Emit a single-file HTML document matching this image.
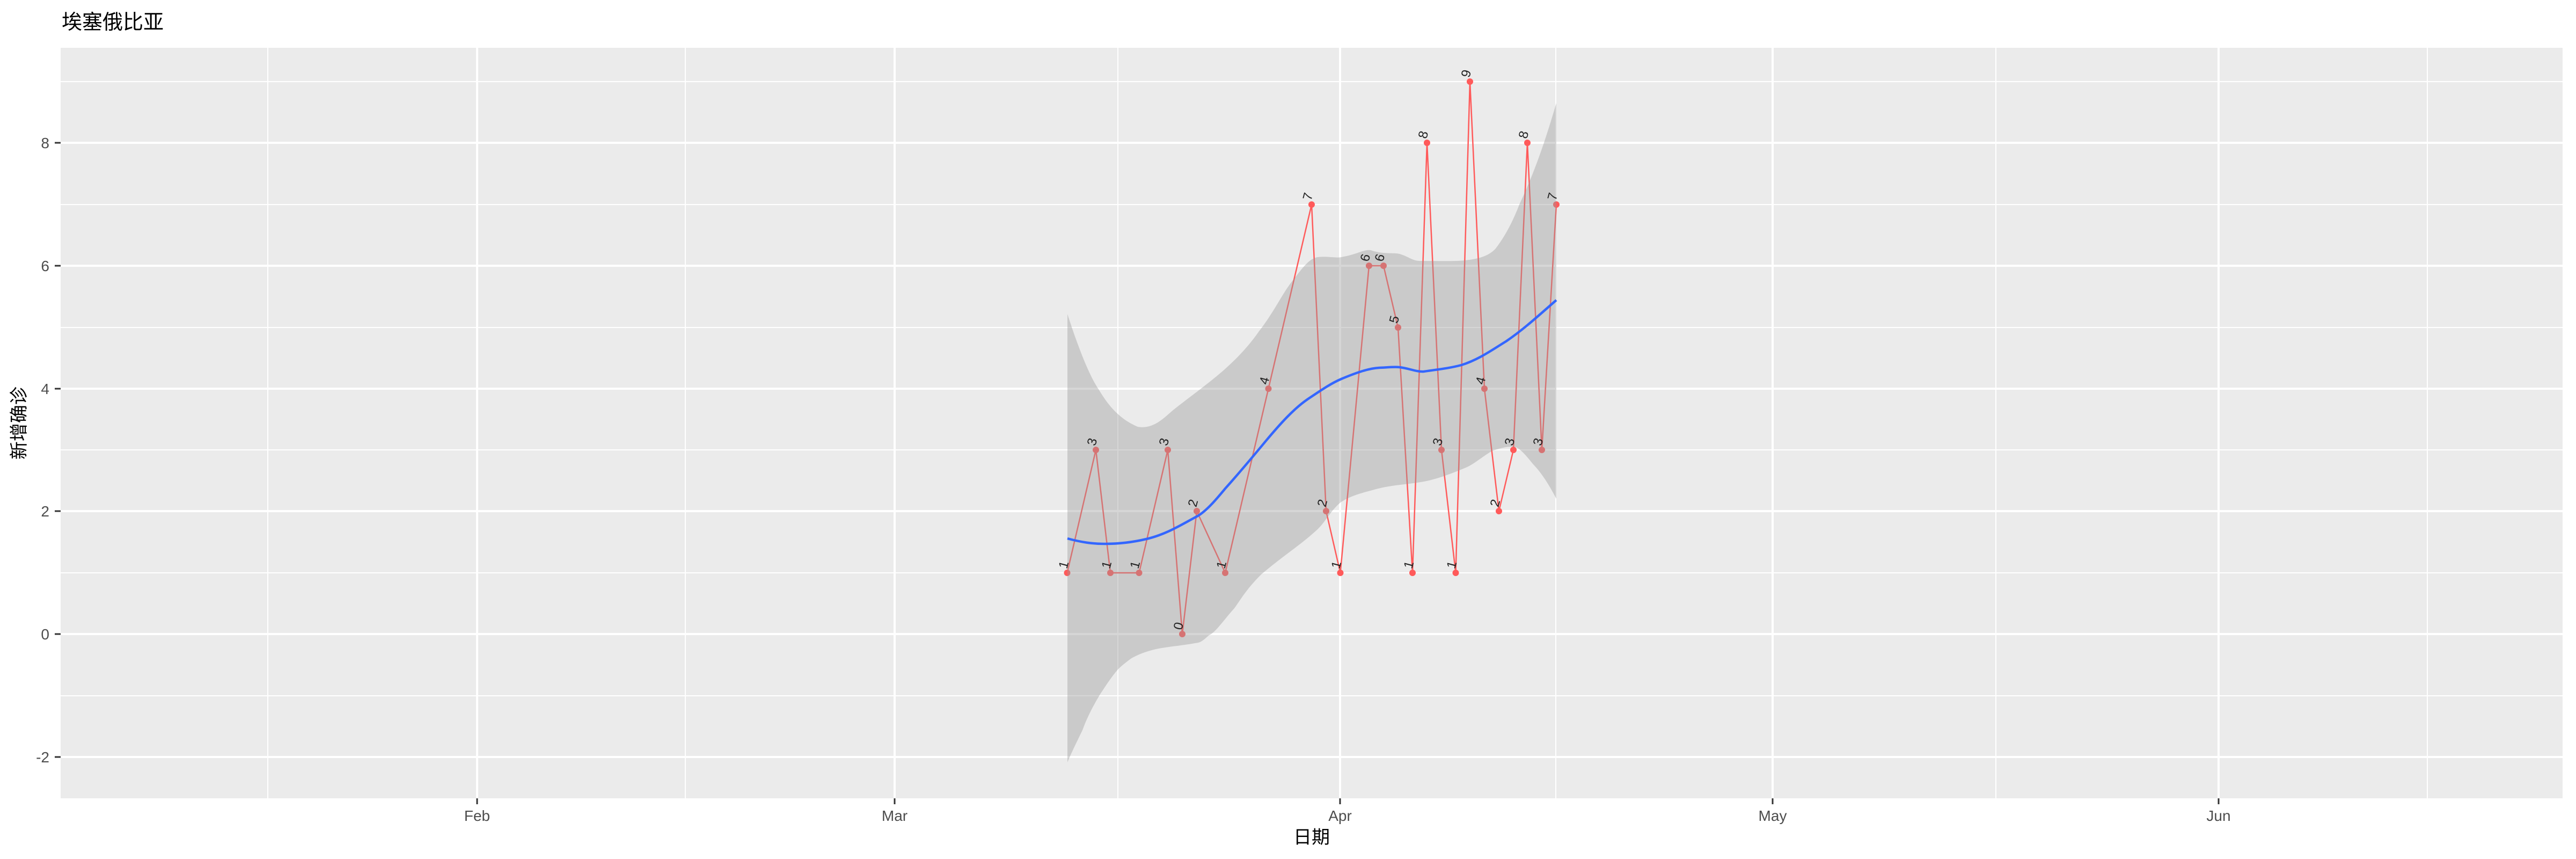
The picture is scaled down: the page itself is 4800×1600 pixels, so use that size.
<!DOCTYPE html>
<html><head><meta charset="utf-8"><style>
html,body{margin:0;padding:0;background:#fff;}
svg{display:block;}
text{font-family:"Liberation Sans","Noto Sans CJK SC",sans-serif;}
</style></head><body>
<svg width="4800" height="1600" viewBox="0 0 4800 1600" xmlns="http://www.w3.org/2000/svg">
<rect width="4800" height="1600" fill="#fff"/>
<text x="115" y="54" font-size="38" fill="#000">埃塞俄比亚</text>
<rect x="113" y="89" width="4662" height="1398" fill="#EBEBEB"/>
<g stroke="#fff" stroke-width="2">
<line x1="113" x2="4775" y1="152" y2="152"/>
<line x1="113" x2="4775" y1="381" y2="381"/>
<line x1="113" x2="4775" y1="610" y2="610"/>
<line x1="113" x2="4775" y1="838" y2="838"/>
<line x1="113" x2="4775" y1="1067" y2="1067"/>
<line x1="113" x2="4775" y1="1296" y2="1296"/>
<line y1="89" y2="1487" x1="499" x2="499"/>
<line y1="89" y2="1487" x1="1277" x2="1277"/>
<line y1="89" y2="1487" x1="2083" x2="2083"/>
<line y1="89" y2="1487" x1="2899" x2="2899"/>
<line y1="89" y2="1487" x1="3719" x2="3719"/>
<line y1="89" y2="1487" x1="4523" x2="4523"/>
</g>
<g stroke="#fff" stroke-width="4">
<line x1="113" x2="4775" y1="266" y2="266"/>
<line x1="113" x2="4775" y1="495" y2="495"/>
<line x1="113" x2="4775" y1="724" y2="724"/>
<line x1="113" x2="4775" y1="952" y2="952"/>
<line x1="113" x2="4775" y1="1181" y2="1181"/>
<line x1="113" x2="4775" y1="1410" y2="1410"/>
<line y1="89" y2="1487" x1="889" x2="889"/>
<line y1="89" y2="1487" x1="1667" x2="1667"/>
<line y1="89" y2="1487" x1="2497" x2="2497"/>
<line y1="89" y2="1487" x1="3303" x2="3303"/>
<line y1="89" y2="1487" x1="4134" x2="4134"/>
</g>
<!-- data line and points -->
<polyline fill="none" stroke="#FF5A5A" stroke-width="2.5" points="1988.5,1067 2042,838 2069,1067 2122.5,1067 2176,838 2203,1181 2230,952 2283,1067 2363.5,724 2444,381 2471,952 2497.5,1067 2551,495 2578,495 2605,610 2632,1067 2659,266 2686,838 2712.5,1067 2739,152 2766,724 2793,952 2820,838 2846,266 2873,838 2900,381"/>
<g fill="#FF5A5A">
<circle cx="1988.5" cy="1067" r="6"/><circle cx="2042" cy="838" r="6"/><circle cx="2069" cy="1067" r="6"/><circle cx="2122.5" cy="1067" r="6"/><circle cx="2176" cy="838" r="6"/><circle cx="2203" cy="1181" r="6"/><circle cx="2230" cy="952" r="6"/><circle cx="2283" cy="1067" r="6"/><circle cx="2363.5" cy="724" r="6"/><circle cx="2444" cy="381" r="6"/><circle cx="2471" cy="952" r="6"/><circle cx="2497.5" cy="1067" r="6"/><circle cx="2551" cy="495" r="6"/><circle cx="2578" cy="495" r="6"/><circle cx="2605" cy="610" r="6"/><circle cx="2632" cy="1067" r="6"/><circle cx="2659" cy="266" r="6"/><circle cx="2686" cy="838" r="6"/><circle cx="2712.5" cy="1067" r="6"/><circle cx="2739" cy="152" r="6"/><circle cx="2766" cy="724" r="6"/><circle cx="2793" cy="952" r="6"/><circle cx="2820" cy="838" r="6"/><circle cx="2846" cy="266" r="6"/><circle cx="2873" cy="838" r="6"/><circle cx="2900" cy="381" r="6"/>
</g>
<!-- ribbon -->
<path fill="#999999" fill-opacity="0.4" d="M1989,585 C2010,650 2030,700 2047,725 C2065,755 2085,780 2120,795 C2150,800 2170,777 2187,763 C2220,737 2255,712 2283,687 C2310,663 2330,640 2346,617 C2375,580 2390,545 2410,521 C2430,495 2440,482 2455,479 C2475,477 2490,481 2499,479 C2530,474 2545,462 2557,467 C2580,474 2595,470 2608,473 C2625,478 2632,486 2646,486 C2680,486 2710,487 2729,485 C2760,482 2775,475 2786,464 C2805,440 2820,410 2831,381 C2860,320 2880,260 2900,192 L2900,929 C2885,900 2870,878 2857,865 C2845,850 2835,838 2825,833 C2810,830 2795,835 2780,840 C2760,852 2745,866 2729,872 C2700,884 2675,893 2653,897 C2620,903 2590,903 2557,913 C2530,920 2515,925 2499,935 C2480,950 2470,972 2455,986 C2420,1018 2400,1028 2350,1070 C2320,1100 2310,1120 2300,1133 C2280,1155 2265,1178 2253,1183 C2245,1190 2240,1195 2233,1197 C2200,1203 2170,1205 2150,1210 C2130,1215 2115,1222 2107,1227 C2095,1236 2090,1240 2083,1247 C2070,1262 2060,1278 2050,1293 C2035,1318 2025,1338 2017,1360 C2005,1385 1995,1405 1989,1420 Z"/>
<!-- smooth -->
<path fill="none" stroke="#3366FF" stroke-width="4.5" d="M1989,1003 C2015,1010 2035,1013 2059,1013 C2090,1013 2115,1009 2136,1004 C2175,995 2205,975 2232,961 C2250,950 2268,928 2283,910 C2310,880 2335,850 2359,821 C2385,790 2410,762 2436,744 C2460,728 2480,714 2499,706 C2525,695 2550,686 2570,685 C2590,684 2600,683 2608,684 C2625,686 2640,693 2653,692 C2680,688 2700,686 2723,680 C2755,670 2780,652 2806,636 C2840,613 2870,585 2900,559"/>
<!-- labels -->
<g font-size="24" fill="#222" text-anchor="middle">
<text transform="translate(1982,1052) rotate(-75)" dy="8">1</text>
<text transform="translate(2035,823) rotate(-75)" dy="8">3</text>
<text transform="translate(2062,1052) rotate(-75)" dy="8">1</text>
<text transform="translate(2115,1052) rotate(-75)" dy="8">1</text>
<text transform="translate(2169,823) rotate(-75)" dy="8">3</text>
<text transform="translate(2196,1166) rotate(-75)" dy="8">0</text>
<text transform="translate(2223,937) rotate(-75)" dy="8">2</text>
<text transform="translate(2276,1052) rotate(-75)" dy="8">1</text>
<text transform="translate(2356,709) rotate(-75)" dy="8">4</text>
<text transform="translate(2437,366) rotate(-75)" dy="8">7</text>
<text transform="translate(2464,937) rotate(-75)" dy="8">2</text>
<text transform="translate(2490,1052) rotate(-75)" dy="8">1</text>
<text transform="translate(2544,480) rotate(-75)" dy="8">6</text>
<text transform="translate(2571,480) rotate(-75)" dy="8">6</text>
<text transform="translate(2598,595) rotate(-75)" dy="8">5</text>
<text transform="translate(2625,1052) rotate(-75)" dy="8">1</text>
<text transform="translate(2652,251) rotate(-75)" dy="8">8</text>
<text transform="translate(2679,823) rotate(-75)" dy="8">3</text>
<text transform="translate(2705,1052) rotate(-75)" dy="8">1</text>
<text transform="translate(2732,137) rotate(-75)" dy="8">9</text>
<text transform="translate(2759,709) rotate(-75)" dy="8">4</text>
<text transform="translate(2786,937) rotate(-75)" dy="8">2</text>
<text transform="translate(2813,823) rotate(-75)" dy="8">3</text>
<text transform="translate(2839,251) rotate(-75)" dy="8">8</text>
<text transform="translate(2866,823) rotate(-75)" dy="8">3</text>
<text transform="translate(2893,366) rotate(-75)" dy="8">7</text>
</g>
<!-- axes ticks -->
<g stroke="#333" stroke-width="3">
<line x1="102" x2="113" y1="266" y2="266"/><line x1="102" x2="113" y1="495" y2="495"/><line x1="102" x2="113" y1="724" y2="724"/><line x1="102" x2="113" y1="952" y2="952"/><line x1="102" x2="113" y1="1181" y2="1181"/><line x1="102" x2="113" y1="1410" y2="1410"/>
<line x1="889" x2="889" y1="1487" y2="1498"/><line x1="1667" x2="1667" y1="1487" y2="1498"/><line x1="2497" x2="2497" y1="1487" y2="1498"/><line x1="3303" x2="3303" y1="1487" y2="1498"/><line x1="4134" x2="4134" y1="1487" y2="1498"/>
</g>
<g font-size="28" fill="#4D4D4D" text-anchor="end">
<text x="92" y="276">8</text><text x="92" y="505">6</text><text x="92" y="734">4</text><text x="92" y="962">2</text><text x="92" y="1191">0</text><text x="92" y="1420">-2</text>
</g>
<g font-size="28" fill="#4D4D4D" text-anchor="middle">
<text x="889" y="1529">Feb</text><text x="1667" y="1529">Mar</text><text x="2497" y="1529">Apr</text><text x="3303" y="1529">May</text><text x="4134" y="1529">Jun</text>
</g>
<text x="2444" y="1571" font-size="34" fill="#000" text-anchor="middle">日期</text>
<text transform="translate(47,788) rotate(-90)" font-size="34" fill="#000" text-anchor="middle">新增确诊</text>
</svg>
</body></html>
